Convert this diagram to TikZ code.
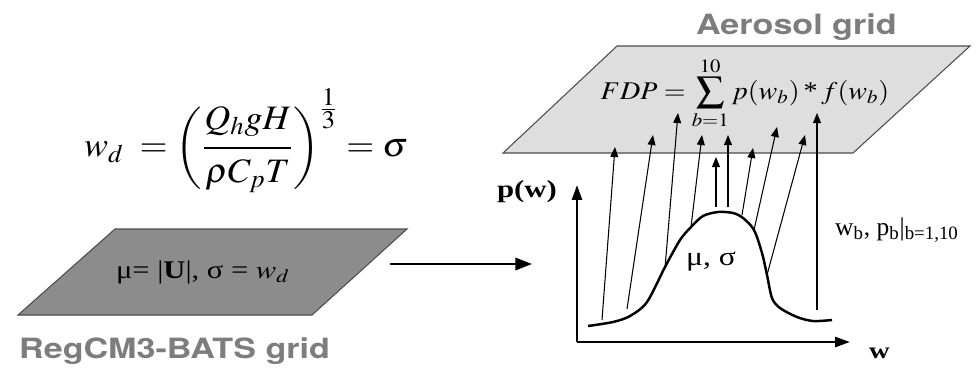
\documentclass[tikz,border=0pt]{standalone}
\usepackage{amsmath}
\usepackage{mathptmx}
\usepackage[no-math]{fontspec}
\setmainfont{Liberation Serif}
\newfontfamily\gridfont{TeX Gyre Heros}[FakeStretch=1.22]
\usetikzlibrary{arrows.meta}
\definecolor{labelgray}{RGB}{125,125,125}
\definecolor{darkplane}{RGB}{140,140,140}
\definecolor{lightplane}{RGB}{222,222,222}
\newcommand{\wide}[2][1.2]{\scalebox{#1}[1]{#2}}
\tikzset{
  plane/.style={draw=black!70,line width=0.6pt},
  gridlabel/.style={text=labelgray,font=\gridfont\bfseries\fontsize{15.9}{18}\selectfont},
  lift/.style={-{Triangle[length=5.7pt,width=4.5pt]},line width=0.6pt},
  axis/.style={-{Triangle[length=8.5pt,width=5.7pt]},line width=1.4pt},
}
\begin{document}
\begin{tikzpicture}[x=0.02cm,y=-0.02cm]
 \useasboundingbox (0,0) rectangle (976,373);
 % the two grids
 \draw[plane,fill=darkplane] (115,229)--(407,229)--(312,315)--(18,315)--cycle;
 \draw[plane,fill=lightplane] (617,46)--(970,46)--(853,153)--(503,153)--cycle;
 \node[gridlabel,anchor=base west] (regcm) at (13,358) {RegCM3-BATS grid};
 \node[gridlabel,anchor=base west] (aerosol) at (690,34) {Aerosol grid};
 % formulas
 \node[font=\fontsize{19.5}{22}\selectfont] (wd) at (246,141)
  {\wide[1.05]{$w_d\; = \left(\dfrac{Q_h gH\rule[-8pt]{0pt}{12pt}}{\rho C_p T\rule{0pt}{17pt}}\right)^{\frac{\scriptstyle 1}{\scriptstyle 3}} = \sigma$}};
 \node[font=\fontsize{14.5}{16}\selectfont] (mu) at (203,272) {\wide{μ= |\textbf{U}|, σ = $w_d$}};
 \node[font=\fontsize{14.5}{16}\selectfont] (fdp) at (745,93)
  {\wide[1.1]{$\displaystyle FDP = \sum_{b=1}^{10} p(w_b) \mathbin{\mbox{*}} f(w_b)$}};
 % axes and distribution
 \coordinate (origin) at (577,342);
 \draw[axis] (origin)--(577,185);
 \draw[axis] (origin)--(850,342);
 \node[anchor=base east,font=\fontsize{14}{16}\selectfont\bfseries] (pw) at (563,197) {\wide[1.25]{p(w)}};
 \node[anchor=base west,font=\fontsize{13}{15}\selectfont\bfseries] (w) at (863,358) {\wide[1.25]{w}};
 \draw[line width=1.4pt,smooth] plot coordinates {(588,326)(613,322)(630,316)(647,302)(665,267)(680,240)(691,227)(703,216)(718,212)(733,213)(743,218)(754,230)(762,253)(767,275)(772,298)(780,308)(797,317)(813,321)(832,320)};
 \node[font=\fontsize{15}{17}\selectfont] (musigma) at (711,262) {\wide{μ, σ}};
 \node[anchor=base west,font=\fontsize{14.5}{17}\selectfont] (bins) at (829,235) {w\textsubscript{b}, p\textsubscript{b}|\textsubscript{b=1,10}};
 % bins lifted to the aerosol grid
 \foreach \i/\fx/\fy/\tx/\ty in {1/602/320/615/147, 2/627/309/653/135, 3/665/268/678/113,
   4/691/227/702/135, 5/716/207/716/157, 6/728/207/728/135, 7/742/215/753/148,
   8/754/230/777/127, 9/767/275/805/135, 10/817/310/817/113}{
  \coordinate (lo\i) at (\fx,\fy);
  \coordinate (hi\i) at (\tx,\ty);
  \draw[lift] (lo\i)--(hi\i);
 }
 % coupling
 \coordinate (outgrid) at (390,264);
 \coordinate (ingraph) at (532,264);
 \draw[-{Triangle[length=9.5pt,width=7pt]},line width=1.4pt] (outgrid)--(ingraph);
\end{tikzpicture}
\end{document}
